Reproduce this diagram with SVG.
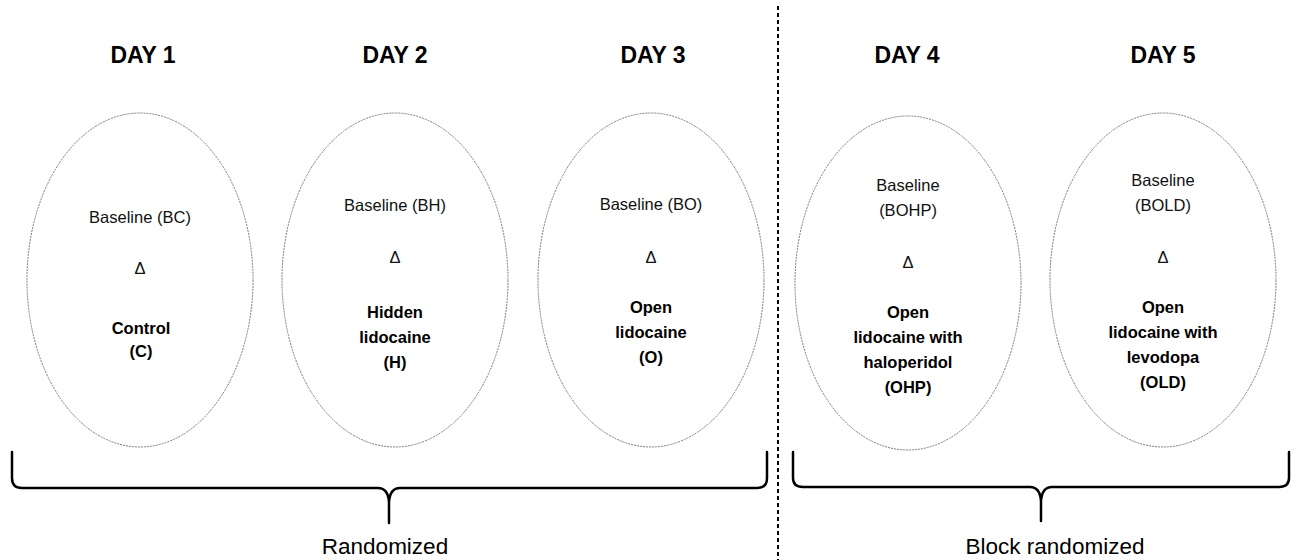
<svg xmlns="http://www.w3.org/2000/svg" width="1301" height="560" viewBox="0 0 1301 560">
<style>
.day{font-family:"Liberation Sans",Arial,sans-serif;font-weight:bold;font-size:23px;fill:#000;text-anchor:middle}
.t{font-family:"Liberation Sans",Arial,sans-serif;font-size:16.5px;fill:#111;text-anchor:middle}
.b{font-family:"Liberation Sans",Arial,sans-serif;font-size:16.5px;font-weight:bold;fill:#000;text-anchor:middle}
.lab{font-family:"Liberation Sans",Arial,sans-serif;font-size:22.5px;fill:#000;text-anchor:middle}
.ell{fill:#fff;stroke:#7a7a7a;stroke-width:1;stroke-dasharray:2 1}
.brace{fill:none;stroke:#000;stroke-width:2.5;stroke-linecap:round;stroke-linejoin:round}
</style>
<rect width="1301" height="560" fill="#fff"/>
<g id="divider"><line x1="778" y1="6" x2="778" y2="560" stroke="#000" stroke-width="2" stroke-dasharray="4 3"/></g>
<g id="day1">
<text class="day" x="143" y="63">DAY 1</text>
<ellipse class="ell" cx="140" cy="280" rx="113" ry="167"/>
<text class="t" x="140" y="223">Baseline (BC)</text>
<text class="t" x="140" y="274">Δ</text>
<text class="b" x="141" y="334">Control</text>
<text class="b" x="141" y="357">(C)</text>
</g>
<g id="day2">
<text class="day" x="395" y="63">DAY 2</text>
<ellipse class="ell" cx="395" cy="280" rx="113" ry="167"/>
<text class="t" x="395" y="211">Baseline (BH)</text>
<text class="t" x="395" y="263">Δ</text>
<text class="b" x="395" y="318">Hidden</text>
<text class="b" x="395" y="343">lidocaine</text>
<text class="b" x="395" y="368">(H)</text>
</g>
<g id="day3">
<text class="day" x="653" y="63">DAY 3</text>
<ellipse class="ell" cx="651" cy="280" rx="113" ry="167"/>
<text class="t" x="651" y="210">Baseline (BO)</text>
<text class="t" x="651" y="263">Δ</text>
<text class="b" x="651" y="313">Open</text>
<text class="b" x="651" y="338">lidocaine</text>
<text class="b" x="651" y="363">(O)</text>
</g>
<g id="day4">
<text class="day" x="907" y="63">DAY 4</text>
<ellipse class="ell" cx="908" cy="283" rx="113" ry="167"/>
<text class="t" x="908" y="191">Baseline</text>
<text class="t" x="908" y="216">(BOHP)</text>
<text class="t" x="908" y="268">Δ</text>
<text class="b" x="908" y="318">Open</text>
<text class="b" x="908" y="343">lidocaine with</text>
<text class="b" x="908" y="368">haloperidol</text>
<text class="b" x="908" y="393">(OHP)</text>
</g>
<g id="day5">
<text class="day" x="1163" y="63">DAY 5</text>
<ellipse class="ell" cx="1163" cy="280" rx="113" ry="167"/>
<text class="t" x="1163" y="186">Baseline</text>
<text class="t" x="1163" y="211">(BOLD)</text>
<text class="t" x="1163" y="263">Δ</text>
<text class="b" x="1163" y="313">Open</text>
<text class="b" x="1163" y="338">lidocaine with</text>
<text class="b" x="1163" y="363">levodopa</text>
<text class="b" x="1163" y="388">(OLD)</text>
</g>
<g id="connectors">
<path class="brace" d="M12,452 L12,478 Q12,488 22,488 L378,488 Q388,488 389,502 L389,523 M389,502 Q390,488 400,488 L757,488 Q767,488 767,478 L767,452"/>
<path class="brace" d="M793,452 L793,478 Q793,487 803,487 L1030,487 Q1040,487 1041,501 L1041,521 M1041,501 Q1042,487 1052,487 L1279,487 Q1289,487 1289,478 L1289,452"/>
</g>
<g id="labels">
<text class="lab" x="385" y="554">Randomized</text>
<text class="lab" x="1055" y="554">Block randomized</text>
</g>
</svg>
